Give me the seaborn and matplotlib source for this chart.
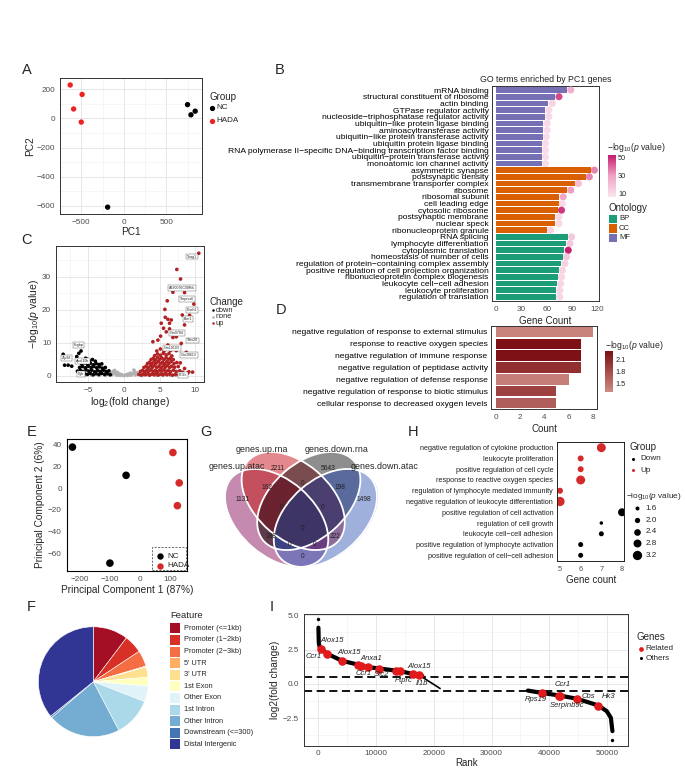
import matplotlib as mpl

mpl.use('Agg')
import matplotlib.pyplot as plt
import seaborn as sns
import numpy as np
import pandas as pd
from matplotlib.patches import Ellipse, Rectangle
from matplotlib.lines import Line2D
from matplotlib.colors import LinearSegmentedColormap, Normalize, to_rgba, to_hex
from matplotlib.cm import ScalarMappable

# ---------------- A: sample PCA ----------------
a_group = ['HADA', 'HADA', 'HADA', 'HADA', 'NC', 'NC', 'NC', 'NC']
a_pc1 = [-630, -490, -590, -500, 750, 840, 790, -190]
a_pc2 = [230, 165, 65, -25, 95, 50, 25, -610]

# ---------------- B: GO terms enriched by PC1 genes ----------------
go_terms = ['mRNA binding', 'structural constituent of ribosome', 'actin binding',
            'GTPase regulator activity', 'nucleoside−triphosphatase regulator activity',
            'ubiquitin−like protein ligase binding', 'aminoacyltransferase activity',
            'ubiquitin−like protein transferase activity', 'ubiquitin protein ligase binding',
            'RNA polymerase II−specific DNA−binding transcription factor binding',
            'ubiquitin−protein transferase activity', 'monoatomic ion channel activity',
            'asymmetric synapse', 'postsynaptic density', 'transmembrane transporter complex',
            'ribosome', 'ribosomal subunit', 'cell leading edge', 'cytosolic ribosome',
            'postsynaptic membrane', 'nuclear speck', 'ribonucleoprotein granule',
            'RNA splicing', 'lymphocyte differentiation', 'cytoplasmic translation',
            'homeostasis of number of cells', 'regulation of protein−containing complex assembly',
            'positive regulation of cell projection organization',
            'ribonucleoprotein complex biogenesis', 'leukocyte cell−cell adhesion',
            'leukocyte proliferation', 'regulation of translation']
go_ontology = ['MF'] * 12 + ['CC'] * 10 + ['BP'] * 10
go_count = [84, 70, 62, 58, 58, 56, 56, 55, 54, 54, 54, 54,
            112, 106, 93, 84, 75, 74, 73, 70, 70, 60,
            85, 83, 81, 79, 77, 74, 73, 72, 71, 71]
go_logp = [25, 45, 12, 10, 10, 10, 9, 9, 9, 9, 9, 9,
           35, 35, 20, 30, 28, 10, 48, 10, 10, 12,
           16, 16, 52, 16, 13, 12, 11, 11, 11, 11]

# ---------------- C: volcano ----------------
vol_up_x = [2.1, 2.4, 2.7, 3.0, 3.3, 3.6, 3.9, 4.2, 4.5, 4.8, 5.1, 5.4, 5.7, 6.0, 6.4, 6.8, 7.2, 7.7, 8.9, 9.6,
            2.3, 2.6, 2.9, 3.2, 3.5, 3.8, 4.1, 4.4, 4.7, 5.0, 5.3, 5.6, 5.9, 6.2, 6.5, 6.9, 7.3, 7.8, 8.2,
            2.8, 3.1, 3.4, 3.7, 4.0, 4.3, 4.6, 4.9, 5.2, 5.5, 5.8, 6.1, 6.4, 6.7, 7.1, 7.6,
            3.3, 3.6, 3.9, 4.2, 4.5, 4.8, 5.1, 5.4, 5.7, 6.0, 6.3, 6.6, 7.0, 7.4,
            3.8, 4.1, 4.4, 4.7, 5.0, 5.3, 5.6, 5.9, 6.2, 6.5, 6.9,
            4.3, 4.7, 5.1, 5.5, 5.9, 6.3, 6.7,
            4.6, 5.1, 5.6, 6.0, 6.5, 7.1,
            10.47, 7.40, 7.92, 7.18, 6.85, 8.48, 6.06, 9.78, 5.73, 8.16, 9.18, 6.15, 6.62, 5.78, 8.48,
            5.54, 6.38, 7.32, 6.85, 5.13, 4.05, 8.02, 6.15, 8.72, 7.32, 7.88, 9.08, 8.48, 5.92, 5.22,
            4.75, 6.38]
vol_up_y = [0.4, 0.2, 0.5, 0.3, 0.6, 0.2, 0.5, 0.3, 0.6, 0.2, 0.5, 0.3, 0.6, 0.3, 0.5, 0.2, 0.4, 0.3, 0.8, 1.1,
            1.3, 1.6, 1.2, 1.7, 1.4, 1.8, 1.3, 1.6, 1.2, 1.7, 1.4, 1.8, 1.3, 1.6, 1.2, 1.7, 1.3, 1.5, 1.1,
            2.5, 2.9, 2.4, 3.0, 2.6, 3.1, 2.5, 2.9, 2.4, 3.0, 2.6, 3.1, 2.5, 2.9, 2.6, 2.8,
            3.7, 4.1, 3.6, 4.2, 3.8, 4.3, 3.7, 4.1, 3.6, 4.2, 3.8, 4.3, 3.7, 4.0,
            4.9, 5.3, 4.8, 5.5, 5.0, 5.4, 4.9, 5.5, 5.0, 5.3, 4.9,
            6.1, 6.6, 6.2, 6.8, 6.3, 6.7, 6.0,
            7.5, 8.1, 7.4, 8.3, 7.6, 8.0,
            37.1, 32.2, 29.3, 26.5, 25.3, 25.2, 22.7, 21.7, 20.1, 18.4, 18.3, 17.1, 16.9, 17.7, 15.4,
            14.4, 14.2, 11.8, 11.6, 12.0, 10.3, 9.8, 9.3, 7.1, 7.6, 3.9, 1.2, 2.2, 13.3, 15.9,
            10.8, 15.9]
vol_down_x = [-6.3, -5.9, -5.5, -5.1, -4.7, -4.3, -3.9, -3.5, -3.1, -2.7, -2.3, -1.9,
              -6.5, -6.1, -5.7, -5.3, -4.9, -4.5, -4.1, -3.7, -3.3, -2.9, -2.5, -2.1,
              -6.2, -5.8, -5.4, -5.0, -4.6, -4.2, -3.8, -3.4, -3.0, -2.6,
              -5.9, -5.5, -5.1, -4.7, -4.3, -3.9, -3.5, -3.1,
              -5.6, -5.2, -4.8, -4.4, -4.0,
              -8.5, -8.3, -7.8, -7.3, -6.6, -6.3, -5.35, -6.0]
vol_down_y = [0.5, 0.3, 0.6, 0.4, 0.7, 0.3, 0.6, 0.4, 0.7, 0.4, 0.6, 0.3,
              1.4, 1.7, 1.3, 1.8, 1.4, 1.7, 1.2, 1.6, 1.3, 1.7, 1.3, 1.5,
              2.5, 2.8, 2.4, 2.9, 2.5, 2.8, 2.4, 2.7, 2.3, 2.5,
              3.5, 3.9, 3.4, 3.8, 3.3, 3.7, 3.4, 3.6,
              4.6, 5.0, 4.5, 4.9, 4.4,
              6.5, 3.2, 3.2, 2.9, 5.8, 6.8, 5.3, 7.5]
vol_none_x = [-1.8, -1.5, -1.2, -0.9, -0.6, -0.3, 0.0, 0.3, 0.6, 0.9, 1.2, 1.5, 1.8, 2.0, -2.0, -1.6,
              -1.0, -0.5, 0.5, 1.0, 1.6, -1.3, 1.4, -0.8, 0.8,
              -5.5, -4.5, -3.5, -2.6, 2.6, 3.5, 4.5, 5.5, 6.5, 7.3]
vol_none_y = [0.9, 1.3, 0.7, 1.0, 0.5, 0.3, 0.05, 0.3, 0.5, 0.8, 0.6, 1.1, 0.9, 0.4, 0.3, 0.4,
              0.2, 0.1, 0.1, 0.2, 0.3, 1.6, 1.7, 0.3, 0.3,
              0.1, 0.15, 0.1, 0.1, 0.1, 0.12, 0.1, 0.1, 0.1, 0.2]
vol_label_gene = ['Tnag1', 'A330076C08Rik', 'Tmprss6', 'Dnah1', 'Blm1', 'Gm9784', 'Trbv20',
                  'Gm19103', 'Gm38613', 'Prl2c', 'Fcgbp', 'Zfp98', 'Apol10b', 'Pgk']
vol_label_x = [9.55, 8.16, 8.8, 9.55, 8.94, 7.46, 9.64, 6.76, 9.08, 8.24, -6.37, -8.04, -5.73, -6.05]
vol_label_y = [36.1, 26.5, 23.2, 19.9, 17.1, 13.0, 10.7, 8.4, 6.2, 0.2, 9.2, 5.5, 4.5, 0.5]

# ---------------- D: GO enrichment bars ----------------
d_terms = ['negative regulation of response to external stimulus', 'response to reactive oxygen species',
           'negative regulation of immune response', 'negative regulation of peptidase activity',
           'negative regulation of defense response', 'negative regulation of response to biotic stimulus',
           'cellular response to decreased oxygen levels']
d_count = [8, 7, 7, 7, 6, 5, 5]
d_logp = [1.35, 2.3, 2.3, 2.05, 1.38, 1.9, 1.65]

# ---------------- E: ATAC PCA ----------------
e_group = ['NC', 'NC', 'NC', 'HADA', 'HADA', 'HADA']
e_pc1 = [-225, -46, -100, 110, 131, 125]
e_pc2 = [38, 12, -69, 33, 5, -16]

# ---------------- F: peak annotation ----------------
f_features = ['Promoter (<=1kb)', 'Promoter (1−2kb)', 'Promoter (2−3kb)', "5' UTR", "3' UTR",
              '1st Exon', 'Other Exon', '1st Intron', 'Other Intron', 'Downstream (<=300)',
              'Distal Intergenic']
f_percent = [10.3, 5.4, 4.7, 0.3, 3.0, 2.6, 4.6, 11.4, 21.4, 0.5, 35.8]

# ---------------- G: Venn ----------------
venn_sets = ['genes.up.atac', 'genes.up.rna', 'genes.down.rna', 'genes.down.atac']
venn_regions = ['1000', '0100', '0010', '0001', '1100', '0011', '0110', '1110',
                '0111', '1111', '1010', '0101', '1011', '1101', '1001']
venn_counts = [1131, 2211, 5643, 1498, 162, 198, 0, 0, 0, 0, 188, 222, 0, 0, 0]

# ---------------- H: GO dot plot ----------------
h_terms = ['negative regulation of cytokine production', 'leukocyte proliferation',
           'positive regulation of cell cycle', 'response to reactive oxygen species',
           'regulation of lymphocyte mediated immunity', 'negative regulation of leukocyte differentiation',
           'positive regulation of cell activation', 'regulation of cell growth',
           'leukocyte cell−cell adhesion', 'positive regulation of lymphocyte activation',
           'positive regulation of cell−cell adhesion']
h_group = ['Up'] * 6 + ['Down'] * 5
h_count = [7, 6, 6, 6, 5, 5, 8, 7, 7, 6, 6]
h_logp = [3.1, 2.2, 2.2, 3.1, 2.2, 3.2, 2.8, 1.45, 1.9, 1.9, 1.9]

# ---------------- I: ranked fold change ----------------
i_rank_up = [0, 60, 200, 420, 1560, 4110, 6830, 7350, 8670, 10520, 13410, 14160, 16460, 17450, 18000]
i_lfc_up = [4.1, 3.0, 2.7, 2.55, 2.19, 1.68, 1.41, 1.34, 1.22, 1.12, 0.97, 0.93, 0.71, 0.64, 0.58]
i_rank_tail = [17450, 21090]
i_lfc_tail = [0.64, -0.34]
i_rank_down = [36290, 38720, 41770, 44840, 48530, 49980, 50680, 50950]
i_lfc_down = [-0.49, -0.66, -0.85, -1.09, -1.58, -2.0, -2.48, -3.45]
i_other_rank = [0, 50950]
i_other_lfc = [4.74, -4.1]
i_rel_rank = [420, 1560, 4110, 6830, 7350, 8670, 10520, 13410, 14160, 16460, 17450,
              38720, 41770, 41900, 44840, 48530]
i_rel_lfc = [2.55, 2.19, 1.68, 1.41, 1.34, 1.22, 1.12, 0.97, 0.93, 0.71, 0.64,
             -0.66, -0.85, -0.86, -1.09, -1.58]
i_rel_gene = ['Alox15', 'Ccr1', 'Alox15', '', 'Ccr1', 'Anxa1', 'Stc2', '', 'Ptprc', 'Alox15', 'Il1b',
              'Rps19', 'Ccr1', 'Serpinb9c', 'Cbs', 'Hk3']

# ================= figure =================
W, H = 685, 770
sns.set_theme(style='white')
plt.rcParams['font.family'] = ['Liberation Sans', 'DejaVu Sans']
plt.rcParams.update({'mathtext.fontset': 'custom', 'mathtext.rm': 'Liberation Sans',
                     'mathtext.it': 'Liberation Sans:italic', 'axes.unicode_minus': True})

fig = plt.figure(figsize=(W / 100, H / 100), dpi=100)
LOGP = '−log$_{10}$($\\mathit{p}$ value)'
TICK = 5.9


def fx(x):
    return x / W


def fy(y):
    return 1 - y / H


def fbox(x0, y0, x1, y1):
    return [x0 / W, 1 - y1 / H, (x1 - x0) / W, (y1 - y0) / H]


def ftext(x, y, s, size=5.5, ha='left', **kw):
    fig.text(fx(x), fy(y), s, fontsize=size, ha=ha, va='center', **kw)


def fdot(x, y, color, ms):
    fig.add_artist(Line2D([fx(x)], [fy(y)], marker='o', ms=ms, color=color, ls='', mew=0,
                          transform=fig.transFigure))


def fsquare(x0, y0, x1, y1, color):
    fig.add_artist(Rectangle((fx(x0), fy(y1)), (x1 - x0) / W, (y1 - y0) / H, fc=color, ec='none',
                             transform=fig.transFigure))


def frame(ax, color='#333333', lw=0.7, size=TICK):
    for sp in ax.spines.values():
        sp.set_visible(True)
        sp.set_color(color)
        sp.set_linewidth(lw)
    ax.tick_params(length=2, width=0.5, color=color, labelsize=size, labelcolor='#4D4D4D', pad=1.5)
    ax.tick_params(which='minor', length=0)


def bw_grid(ax):
    ax.set_axisbelow(True)
    ax.grid(True, which='major', color='#E3E3E3', lw=0.6)
    ax.grid(True, which='minor', color='#EFEFEF', lw=0.4)


for lab, x, y in [('A', 26.7, 70), ('B', 280, 70), ('C', 26.7, 240), ('D', 281, 310), ('E', 31.7, 431.7),
                  ('G', 205.7, 431.7), ('H', 413, 431.7), ('F', 31.7, 606.7), ('I', 271.7, 606.7)]:
    ftext(x, y, lab, size=10.5, ha='center')

# ---- A ----
ax = fig.add_axes(fbox(60, 78, 202, 214))
sns.scatterplot(x=a_pc1, y=a_pc2, hue=a_group, palette={'NC': 'black', 'HADA': '#EE2020'},
                s=15, linewidth=0, legend=False, ax=ax)
ax.set_xlim(-720, 920)
ax.set_ylim(-657, 278)
ax.set_xticks([-500, 0, 500])
ax.set_xticks([-750, -250, 250, 750], minor=True)
ax.set_yticks([-600, -400, -200, 0, 200])
ax.set_yticks([-500, -300, -100, 100], minor=True)
frame(ax)
bw_grid(ax)
ax.set_xlabel('PC1', fontsize=7.3, labelpad=1)
ax.set_ylabel('PC2', fontsize=7.3, labelpad=1)
ftext(209, 96.7, 'Group', size=7)
fdot(211.7, 107.7, 'black', 3.8)
ftext(216.5, 107.7, 'NC', size=5.9)
fdot(211.7, 121, '#EE2020', 3.8)
ftext(216.5, 121, 'HADA', size=5.9)

# ---- B ----
onto_colors = {'BP': '#1B9E77', 'CC': '#D95F02', 'MF': '#7570B3'}
go_cmap = LinearSegmentedColormap.from_list('go', ['#FBE4EE', '#EFA3C4', '#C51B6E'])
go_norm = Normalize(6, 53)
ax = fig.add_axes(fbox(492, 86, 599, 301))
df_go = pd.DataFrame({'term': go_terms, 'ontology': go_ontology, 'count': go_count, 'logp': go_logp})
sns.barplot(data=df_go, x='count', y='term', hue='ontology', palette=onto_colors, dodge=False,
            width=0.85, saturation=1, linewidth=0, legend=False, orient='h', ax=ax)
sns.scatterplot(x=np.array(go_count) + 4.5, y=np.arange(len(go_terms)), hue=go_logp, palette=go_cmap,
                hue_norm=(6, 53), s=26, linewidth=0, legend=False, ax=ax, zorder=3)
ax.set_xlim(-5, 122)
ax.set_ylim(len(go_terms) - 0.4, -0.6)
ax.set_xticks([0, 30, 60, 90, 120])
ax.set_yticks(np.arange(len(go_terms)))
ax.set_yticklabels(go_terms)
frame(ax)
ax.tick_params(axis='y', labelsize=6.1, labelcolor='black', length=1.5, pad=1)
ax.set_xlabel('Gene Count', fontsize=7, labelpad=2)
ax.set_ylabel('')
ax.set_title('GO terms enriched by PC1 genes', fontsize=6.3, pad=3)
cax = fig.add_axes(fbox(608.3, 155, 616, 196.7))
cb = fig.colorbar(ScalarMappable(norm=go_norm, cmap=go_cmap), cax=cax, ticks=[10, 30, 50])
cb.outline.set_visible(False)
cax.tick_params(length=0, labelsize=5.3, pad=1.5)
ftext(607, 147.3, LOGP, size=6.2)
ftext(608.3, 208.3, 'Ontology', size=7)
for i, k in enumerate(['BP', 'CC', 'MF']):
    yy = 219 + i * 9.4
    fsquare(609, yy - 4.2, 617, yy + 4.2, onto_colors[k])
    ftext(619, yy, k, size=5.5)

# ---- C ----
ax = fig.add_axes(fbox(56, 246, 204, 381.7))
df_vol = pd.DataFrame({'x': vol_none_x + vol_down_x + vol_up_x,
                       'y': vol_none_y + vol_down_y + vol_up_y,
                       'change': ['none'] * len(vol_none_x) + ['down'] * len(vol_down_x) + ['up'] * len(vol_up_x)})
sns.scatterplot(data=df_vol, x='x', y='y', hue='change',
                palette={'down': 'black', 'none': '#B0B0B0', 'up': '#B22222'},
                s=7, linewidth=0, legend=False, ax=ax)
for g, x, y in zip(vol_label_gene, vol_label_x, vol_label_y):
    ax.text(x, y, g, fontsize=2.6, ha='center', va='center',
            bbox=dict(boxstyle='square,pad=0.25', fc='white', ec='#555555', lw=0.3))
ax.set_xlim(-9.5, 11.2)
ax.set_ylim(-1.8, 39.3)
ax.set_xticks([-5, 0, 5, 10])
ax.set_xticks([-7.5, -2.5, 2.5, 7.5], minor=True)
ax.set_yticks([0, 10, 20, 30])
ax.set_yticks([5, 15, 25, 35], minor=True)
frame(ax)
bw_grid(ax)
ax.set_xlabel('log$_2$(fold change)', fontsize=7.5, labelpad=1)
ax.set_ylabel(LOGP, fontsize=7.5, labelpad=1)
ftext(210, 301.7, 'Change', size=7)
for k, (lab, col) in enumerate([('down', 'black'), ('none', '#B0B0B0'), ('up', '#B22222')]):
    yy = 310 + k * 6.7
    fdot(212.5, yy, col, 1.8)
    ftext(216, yy, lab, size=5.3)

# ---- D ----
d_cmap = LinearSegmentedColormap.from_list('d', ['#CD8A83', '#7B0D12'])
d_norm = Normalize(1.28, 2.34)
d_colors = [to_hex(d_cmap(d_norm(v))) for v in d_logp]
ax = fig.add_axes(fbox(491, 326, 597, 409))
sns.barplot(x=d_count, y=d_terms, hue=d_terms, palette=d_colors, width=0.88, saturation=1,
            linewidth=0, legend=False, orient='h', ax=ax)
ax.set_xlim(-0.41, 8.35)
ax.set_ylim(len(d_terms) - 0.5, -0.5)
ax.set_xticks([0, 2, 4, 6, 8])
frame(ax)
ax.tick_params(axis='y', labelsize=6.1, labelcolor='black', length=1.5, pad=1)
ax.set_xlabel('Count', fontsize=7, labelpad=2)
ax.set_ylabel('')
cax = fig.add_axes(fbox(605, 350.7, 613.3, 391.7))
cb = fig.colorbar(ScalarMappable(norm=d_norm, cmap=d_cmap), cax=cax, ticks=[1.5, 1.8, 2.1])
cb.outline.set_visible(False)
cax.tick_params(length=0, labelsize=5.3, pad=1.5)
ftext(605, 345, LOGP, size=6.2)

# ---- E ----
ax = fig.add_axes(fbox(66.7, 439, 186.7, 570.7))
sns.scatterplot(x=e_pc1, y=e_pc2, hue=e_group, palette={'NC': 'black', 'HADA': '#D42A2A'},
                s=30, linewidth=0, legend=False, ax=ax)
ax.set_xlim(-244, 156)
ax.set_ylim(-76, 45.5)
ax.set_xticks([-200, -100, 0, 100])
ax.set_yticks([-60, -40, -20, 0, 20, 40])
frame(ax, color='black', lw=0.8)
ax.set_xlabel('Principal Component 1 (87%)', fontsize=7.3, labelpad=2)
ax.set_ylabel('Principal Component 2 (6%)', fontsize=7.3, labelpad=2)
fig.add_artist(Rectangle((fx(152.3), fy(570.2)), (186.2 - 152.3) / W, (570.2 - 547.3) / H, fill=False,
                         ls=(0, (3, 2)), lw=0.5, ec='#333333', transform=fig.transFigure))
fdot(160, 556, 'black', 4.6)
ftext(167, 556, 'NC', size=5.9)
fdot(160, 565.5, '#D42A2A', 4.6)
ftext(167, 565.5, 'HADA', size=5.9)

# ---- G: Venn ----
venn_centers = [(0.350, 0.400), (0.450, 0.500), (0.544, 0.500), (0.644, 0.400)]
venn_angles = [140, 140, 40, 40]
venn_w, venn_h = 0.72, 0.45
venn_fill = {'1000': '#C68AB0', '0100': '#E4898E', '0010': '#8E8E8E', '0001': '#9FB1DC',
             '1100': '#C4505F', '0011': '#5A6A9C', '0110': '#7A4C50', '1110': '#6B2330',
             '0111': '#4B3F70', '1111': '#3E3566', '1010': '#5E3B4B', '0101': '#8C6C9C',
             '1011': '#3C4282', '1101': '#6A3E82', '1001': '#7C76B8'}
venn_text_pos = {'1000': (0.145, 0.506), '0100': (0.356, 0.690), '0010': (0.662, 0.690),
                 '0001': (0.879, 0.506), '1100': (0.29, 0.58), '0011': (0.732, 0.58),
                 '0110': (0.505, 0.604), '1110': (0.381, 0.459), '0111': (0.625, 0.459),
                 '1111': (0.505, 0.339), '1010': (0.314, 0.292), '0101': (0.702, 0.292),
                 '1011': (0.431, 0.243), '1101': (0.577, 0.243), '1001': (0.505, 0.172)}
axg = fig.add_axes(fbox(218.6, 416, 384.4, 586))
axg.set_xlim(0, 1)
axg.set_ylim(0, 1)
axg.axis('off')
gx, gy = np.meshgrid(np.linspace(0, 1, 700), np.linspace(0, 1, 700))
code = np.zeros(gx.shape, dtype=int)
for i, ((cx, cy), ang) in enumerate(zip(venn_centers, venn_angles)):
    t = np.deg2rad(ang)
    dx, dy = gx - cx, gy - cy
    xr = dx * np.cos(t) + dy * np.sin(t)
    yr = -dx * np.sin(t) + dy * np.cos(t)
    inside = (xr / (venn_w / 2)) ** 2 + (yr / (venn_h / 2)) ** 2 <= 1
    code += inside.astype(int) << (3 - i)
lut = np.zeros((16, 4))
for key, col in venn_fill.items():
    lut[int(key, 2)] = to_rgba(col)
axg.imshow(lut[code], extent=(0, 1, 0, 1), origin='lower', interpolation='bilinear', aspect='auto')
for (cx, cy), ang in zip(venn_centers, venn_angles):
    axg.add_patch(Ellipse((cx, cy), venn_w, venn_h, angle=ang, fc='none', ec='white', lw=1.3))
for key, n in zip(venn_regions, venn_counts):
    tx, ty = venn_text_pos[key]
    axg.text(tx, ty, str(n), fontsize=4.8, ha='center', va='center', color='#222222')
for name, (x, y) in zip(venn_sets, [(237, 466.7), (262, 449), (336.7, 449), (385, 466.7)]):
    ftext(x, y, name, size=6.4, ha='center')

# ---- H ----
def h_size(v):
    return (0.72 * (4 + (v - 1.6) * 3.3)) ** 2


ax = fig.add_axes(fbox(557.3, 442.3, 624.3, 560.7))
sns.scatterplot(x=h_count, y=np.arange(len(h_terms)), hue=h_group,
                palette={'Down': 'black', 'Up': '#D42A2A'}, s=[h_size(v) for v in h_logp],
                linewidth=0, legend=False, ax=ax)
ax.set_xlim(4.87, 8.11)
ax.set_ylim(len(h_terms) - 0.5, -0.5)
ax.set_xticks([5, 6, 7, 8])
ax.set_yticks(np.arange(len(h_terms)))
ax.set_yticklabels(h_terms)
frame(ax, color='#222222', lw=0.7, size=5.3)
ax.tick_params(axis='y', labelsize=5.2, labelcolor='#222222', length=1.5, pad=1.5)
ax.set_xlabel('Gene count', fontsize=7, labelpad=2)
ax.set_ylabel('')
ftext(630, 446.7, 'Group', size=7)
fdot(633.3, 459, 'black', 2.2)
ftext(640, 459, 'Down', size=5.9)
fdot(633.3, 470, '#D42A2A', 2.2)
ftext(640, 470, 'Up', size=5.9)
ftext(626, 496.7, LOGP, size=5.9)
for k, v in enumerate([1.6, 2.0, 2.4, 2.8, 3.2]):
    yy = 508.3 + k * 11.7
    fdot(636.7, yy, 'black', np.sqrt(h_size(v)))
    ftext(645.7, yy, f'{v:.1f}', size=5.9)

# ---- F ----
f_colors = ['#A50F26', '#D73027', '#F46D43', '#FDAE61', '#FEE090', '#FFFFBF', '#E0F3F8', '#ABD9E9',
            '#74ADD1', '#4575B4', '#313695']
axf = fig.add_axes(fbox(37.3, 625.7, 149.3, 737.7))
axf.pie(f_percent, colors=f_colors, startangle=90, counterclock=False, radius=1,
        wedgeprops=dict(lw=0.4, ec='white'))
axf.set_xlim(-1.02, 1.02)
axf.set_ylim(-1.02, 1.02)
axf.set_aspect('equal')
ftext(170, 615.7, 'Feature', size=6.8)
for k, (lab, col) in enumerate(zip(f_features, f_colors)):
    yy = 628.3 + k * 11.6
    fsquare(170, yy - 5, 180, yy + 5, col)
    ftext(184.3, yy, lab, size=5.3)

# ---- I ----
ax = fig.add_axes(fbox(304, 614, 628.3, 745.5))
ax.axhline(0.5, color='black', lw=1.3, ls=(0, (4.5, 2.5)), zorder=2)
ax.axhline(-0.5, color='black', lw=1.3, ls=(0, (4.5, 2.5)), zorder=2)
sns.lineplot(x=i_rank_up, y=i_lfc_up, color='black', lw=3, sort=False, estimator=None, ax=ax)
sns.lineplot(x=i_rank_tail, y=i_lfc_tail, color='black', lw=1.2, sort=False, estimator=None, ax=ax)
sns.lineplot(x=i_rank_down, y=i_lfc_down, color='black', lw=3, sort=False, estimator=None, ax=ax)
sns.scatterplot(x=i_other_rank, y=i_other_lfc, color='black', s=6, linewidth=0, ax=ax)
sns.scatterplot(x=i_rel_rank, y=i_rel_lfc, color='#E31A1C', s=38, linewidth=0, ax=ax, zorder=4)
i_label_offset = [(10.8, -8.3), (-13.3, 2.3), (6.8, -8.7), (0, 0), (3.1, 7.6), (2.4, -8.3), (2.7, 6.3),
                  (0, 0), (3.8, 9), (5.5, -7.3), (2.8, 8.7), (-5.7, 7), (3.2, -11), (7, 9.6),
                  (11.3, -2.7), (10.5, -9.4)]
for g, r, v, (ox, oy) in zip(i_rel_gene, i_rel_rank, i_rel_lfc, i_label_offset):
    if g:
        ax.annotate(g, (r, v), xytext=(ox * 0.72, -oy * 0.72), textcoords='offset points',
                    ha='center', va='center', fontsize=5.5, style='italic', color='#222222', zorder=5)
ax.set_xlim(-2500, 53700)
ax.set_ylim(-4.5, 5.1)
ax.set_xticks([0, 10000, 20000, 30000, 40000, 50000])
ax.set_xticks([5000, 15000, 25000, 35000, 45000], minor=True)
ax.set_yticks([-2.5, 0, 2.5, 5.0])
ax.set_yticklabels(['−2.5', '0.0', '2.5', '5.0'])
ax.set_yticks([-3.75, -1.25, 1.25, 3.75], minor=True)
frame(ax)
bw_grid(ax)
ax.set_xlabel('Rank', fontsize=7, labelpad=0.5)
ax.set_ylabel('log2(fold change)', fontsize=7.3, labelpad=2)
ftext(636.7, 637.3, 'Genes', size=7)
fdot(640.7, 648.7, '#E31A1C', 3.4)
ftext(645.7, 648.7, 'Related', size=5.9)
fdot(640.7, 658, 'black', 2.2)
ftext(645.7, 658, 'Others', size=5.9)

fig.savefig('out.png', dpi=100)
